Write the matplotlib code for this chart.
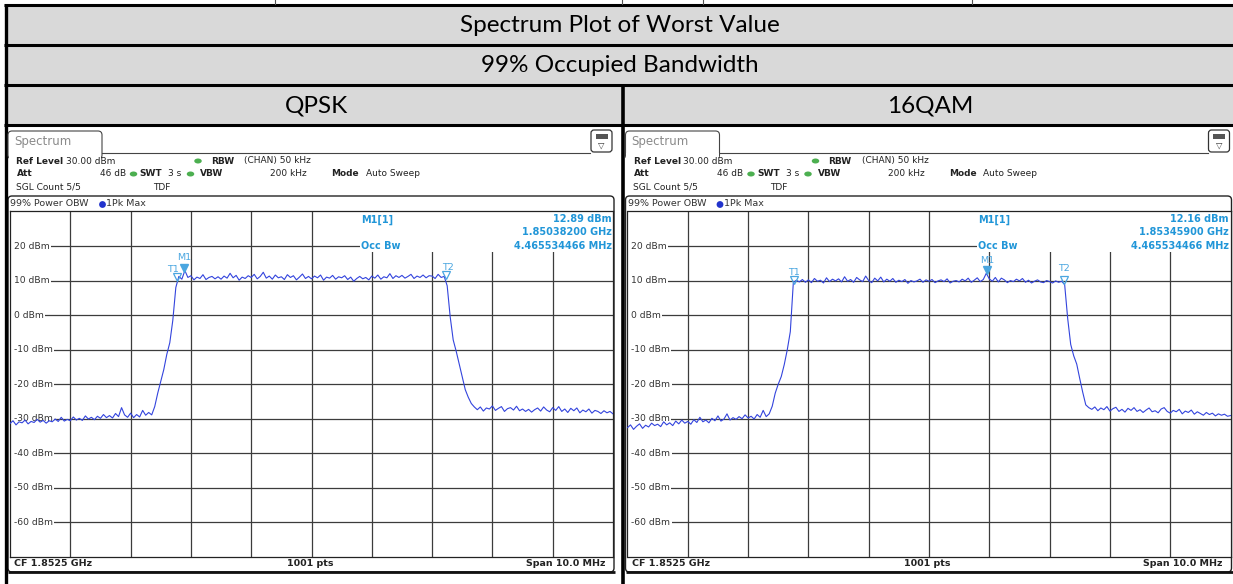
import numpy as np
import matplotlib.pyplot as plt
from matplotlib.patches import Rectangle, FancyBboxPatch, Ellipse, Circle
from matplotlib.transforms import offset_copy

W, H = 1233, 584

SPAN = [-5.0, 5.0]
LEVEL_TICKS = [20, 10, 0, -10, -20, -30, -40, -50, -60]
LEVEL_RANGE = [-70, 30]

QPSK_LEVELS = [
    -31.4, -30.6, -31.8, -30.9, -31.2, -30.4, -31.5, -30.8, -31.1, -30.2,
    -31.0, -30.5, -31.3, -30.6, -30.9, -30.1, -30.8, -29.6, -30.7, -30.2,
    -30.6, -29.5, -30.4, -29.9, -30.5, -29.2, -30.1, -29.6, -30.3, -29.3,
    -29.9, -28.8, -29.7, -29.1, -29.8, -28.5, -29.4, -26.8, -28.9, -29.6,
    -28.4, -29.7, -28.8, -29.5, -27.6, -29.0, -28.2, -28.9, -26.5, -22.6,
    -19.2, -15.8, -11.4, -8.0, -1.5, 8.0, 11.2, 10.4, 12.9, 10.9,
    11.4, 10.2, 11.0, 10.6, 11.7, 10.3, 10.9, 11.2, 10.5, 11.1,
    10.4, 11.3, 10.7, 12.1, 10.8, 11.5, 10.1, 11.0, 10.6, 11.4,
    10.9, 11.8, 10.5, 11.2, 12.4, 10.7, 11.3, 10.4, 11.6, 10.8,
    11.1, 10.3, 11.7, 10.9, 11.4, 10.2, 11.0, 11.9, 10.6, 11.2,
    10.5, 11.3, 10.8, 11.6, 10.1, 11.0, 10.7, 11.5, 10.4, 11.1,
    10.8, 11.4, 10.3, 11.0, 9.8, 10.6, 11.2, 10.5, 10.9, 10.2,
    11.3, 10.7, 11.6, 10.4, 11.1, 10.8, 12.0, 10.6, 11.4, 10.9,
    11.5, 10.7, 11.2, 11.8, 10.6, 11.3, 10.9, 11.6, 10.8, 11.4,
    11.3, 10.6, 11.8, 10.9, 11.2, 8.5, -0.5, -7.2, -10.5, -14.2,
    -17.8, -21.6, -23.8, -25.6, -26.6, -27.4, -26.6, -27.8, -26.9, -27.2,
    -26.3, -27.6, -27.0, -26.5, -27.9, -27.1, -26.8, -27.5, -26.4, -27.7,
    -27.2, -27.9, -27.3, -28.1, -27.4, -26.9, -27.8, -26.6, -27.5, -28.0,
    -26.8, -27.6, -26.5, -27.9, -27.2, -28.2, -27.0, -27.7, -26.9, -28.3,
    -27.5, -28.0, -27.2, -28.4, -27.6, -27.9, -28.5, -27.7, -28.3, -27.9,
    -28.6,
]

QAM16_LEVELS = [
    -32.6, -31.8, -33.1, -32.2, -31.5, -32.8, -31.9, -32.4, -31.3, -32.0,
    -31.6, -32.3, -30.9, -31.8, -31.2, -32.0, -30.7, -31.5, -30.4, -31.3,
    -30.8, -31.6, -30.3, -31.1, -29.6, -30.9, -30.4, -31.2, -29.9, -30.6,
    -29.2, -30.7, -30.1, -28.6, -30.4, -29.7, -30.2, -29.4, -30.0, -28.9,
    -29.8, -29.3, -30.1, -28.8, -29.6, -27.6, -29.4, -28.6, -26.4, -22.6,
    -20.0, -17.8, -14.3, -10.0, -4.8, 9.4, 10.1, 9.6, 10.3, 9.5,
    10.2, 9.4, 10.6, 9.8, 10.1, 9.3, 10.8, 9.7, 10.4, 9.9,
    10.5, 9.6, 11.1, 9.8, 10.3, 9.5, 10.9, 10.2, 9.7, 11.3,
    10.0, 9.4, 10.7, 9.9, 11.0, 9.6, 10.4, 9.8, 10.6, 9.5,
    10.1, 9.7, 10.3, 9.2, 10.0, 9.6, 9.9, 10.4, 9.5, 10.2,
    9.8, 10.3, 9.4, 9.9, 10.2, 9.7, 10.5, 9.3, 9.8, 10.0,
    9.6, 10.4, 9.9, 10.7, 9.5, 10.1, 10.8, 9.7, 10.3, 12.1,
    10.5, 9.8, 10.9, 9.6, 10.7, 10.2, 9.4, 10.0, 9.7, 10.4,
    9.9, 10.6, 9.5, 10.1, 9.3, 9.8, 10.2, 9.6, 9.4, 10.0,
    9.7, 9.3, 9.9, 9.5, 9.8, 8.8, -1.0, -8.5, -11.8, -14.2,
    -18.4, -22.4, -26.0, -26.8, -27.3, -26.6, -27.7, -26.9, -27.4, -26.5,
    -27.8, -27.1, -26.7, -27.9, -27.3, -28.1, -27.0, -27.6, -26.8, -27.9,
    -27.4, -28.2, -27.5, -26.9, -28.0, -27.7, -28.3, -27.2, -26.8, -27.9,
    -28.4, -27.6, -28.0, -27.3, -28.6, -27.8, -28.2, -27.5, -28.7, -28.0,
    -28.5, -29.0, -28.2, -28.8, -28.4, -29.2, -28.6, -29.0, -28.7, -29.3,
    -29.1,
]

# marqueurs : T1/T2 (limites OBW) et M1
QPSK_T_FREQ = [-2.233, 2.233]
QPSK_T_LEVEL = [10.3, 10.6]
QPSK_M1 = [-2.118, 12.89]
QAM16_T_FREQ = [-2.233, 2.233]
QAM16_T_LEVEL = [9.4, 9.3]
QAM16_M1 = [0.959, 12.16]

QPSK_INFO = ["12.89 dBm", "1.85038200 GHz", "4.465534466 MHz"]
QAM16_INFO = ["12.16 dBm", "1.85345900 GHz", "4.465534466 MHz"]

TABLE_ROWS = ["Spectrum Plot of Worst Value", "99% Occupied Bandwidth"]
MODULATIONS = ["QPSK", "16QAM"]

TRACE = "#3344dd"
MK = "#4aa6e0"
INFO = "#2196d8"
GRID = "#3c3c3c"
TXT = "#333333"
GREEN = "#4caf50"

fig = plt.figure(figsize=(W / 100, H / 100), dpi=100)
bg = fig.add_axes([0, 0, 1, 1])
bg.set_xlim(0, W)
bg.set_ylim(H, 0)
bg.axis("off")

# --- tableau ---
TFONT = "Lato"
for y0, y1 in [(5, 43.5), (45.5, 83.5), (85.5, 123.5)]:
    bg.add_patch(Rectangle((5, y0), W - 5, y1 - y0, fc="#d9d9d9", ec="none"))
for y in [4.5, 44.5, 84.5, 124.5]:
    bg.plot([4, W], [y, y], color="black", lw=2.2, solid_capstyle="butt")
bg.plot([5.5, 5.5], [3.5, H], color="black", lw=2.4, solid_capstyle="butt")
bg.plot([622.5, 622.5], [84, H], color="black", lw=2.6, solid_capstyle="butt")
for x in [275, 622, 703, 972]:
    bg.plot([x, x], [0, 4], color="#555555", lw=0.8)
bg.text(620, 26, TABLE_ROWS[0], ha="center", va="center", fontsize=17.5, family=TFONT)
bg.text(620, 66, TABLE_ROWS[1], ha="center", va="center", fontsize=17.5, family=TFONT)
bg.text(316, 106, MODULATIONS[0], ha="center", va="center", fontsize=17.5, family=TFONT)
bg.text(930, 106, MODULATIONS[1], ha="center", va="center", fontsize=17.5, family=TFONT)


def draw_panel(dx, levels, t_freq, t_level, m1, info, lbl_off):
    # onglet "Spectrum" + icone
    bg.add_patch(FancyBboxPatch((8 + dx, 131), 94, 28, boxstyle="round,pad=0,rounding_size=4",
                                fc="white", ec="#444444", lw=0.8, zorder=2))
    bg.add_patch(Rectangle((8.6 + dx, 152.6), 92.8, 8, fc="white", ec="none", zorder=3))
    bg.plot([102 + dx, 590 + dx], [152.5, 152.5], color="#444444", lw=0.8, zorder=3)
    bg.text(14 + dx, 142, "Spectrum", fontsize=8.5, color="#8a8a8a", va="center", zorder=4)
    bg.add_patch(FancyBboxPatch((591 + dx, 130), 21, 22, boxstyle="round,pad=0,rounding_size=3",
                                fc="white", ec="#333333", lw=0.9, zorder=4))
    bg.add_patch(Rectangle((595.5 + dx, 134), 12, 4.5, fc="#555555", ec="none", zorder=5))
    bg.text(601.5 + dx, 145.5, "\u25bd", fontsize=6, ha="center", va="center", color="#333333", zorder=5)

    # lignes de reglages
    hdr = [
        (16.5, 161, "Ref Level", True, "left"), (65.5, 161, "30.00 dBm", False, "left"),
        (211, 161, "RBW", True, "left"), (244, 161, "(CHAN) 50 kHz", False, "left"),
        (16.5, 174, "Att", True, "left"), (126, 174, "46 dB", False, "right"),
        (139.5, 174, "SWT", True, "left"), (168, 174, "3 s", False, "left"),
        (200, 174, "VBW", True, "left"), (307, 174, "200 kHz", False, "right"),
        (331.5, 174, "Mode", True, "left"), (365.5, 174, "Auto Sweep", False, "left"),
        (15.5, 187, "SGL Count 5/5", False, "left"), (153, 187, "TDF", False, "left"),
    ]
    for x, y, s, bold, ha in hdr:
        bg.text(x + dx, y, s, fontsize=6.5, ha=ha, va="center", color="#222222",
                fontweight="bold" if bold else "normal")
    for x, y in [(198, 161), (133.5, 174), (190.5, 174)]:
        bg.add_patch(Ellipse((x + dx, y), 7.5, 5, fc=GREEN, ec="none"))

    # cadre du diagramme
    bg.add_patch(FancyBboxPatch((8 + dx, 196), 606, 376, boxstyle="round,pad=0,rounding_size=4",
                                fc="white", ec="#222222", lw=1.0))
    bg.plot([8 + dx, 615 + dx], [572, 572], color="#111111", lw=2.0, solid_capstyle="butt")
    bg.text(10.5 + dx, 204, "99% Power OBW", fontsize=6.8, va="center", color=TXT)
    bg.add_patch(Circle((102.5 + dx, 204.5), 3.4, fc="#2233cc", ec="none"))
    bg.text(106.5 + dx, 204, "1Pk Max", fontsize=6.8, va="center", color=TXT)
    bg.text(14 + dx, 563.5, "CF 1.8525 GHz", fontsize=6.8, fontweight="bold", va="center", color="#222222")
    bg.text(310 + dx, 563.5, "1001 pts", fontsize=6.8, fontweight="bold", ha="center", va="center", color="#222222")
    bg.text(605 + dx, 563.5, "Span 10.0 MHz", fontsize=6.8, fontweight="bold", ha="right", va="center", color="#222222")

    ax = fig.add_axes([(10 + dx) / W, 1 - 556.8 / H, 603 / W, 345.3 / H])
    freqs = np.linspace(SPAN[0], SPAN[1], len(levels))
    for f in np.arange(SPAN[0] + 1, SPAN[1]):
        ax.axvline(f, color=GRID, lw=0.9, zorder=1)
    yax = ax.get_yaxis_transform()
    for v in LEVEL_TICKS:
        ax.axhline(v, color=GRID, lw=0.9, zorder=1)
        ax.add_patch(Rectangle((0, v - 1.2), 0.008, 2.4, transform=yax, fc="white", ec="none", zorder=2))
        ax.text(0.0066, v, f"{v} dBm", transform=yax, fontsize=6.6,
                va="center", ha="left", color=TXT, zorder=3,
                bbox=dict(fc="white", ec="none", pad=0.8))
    ax.add_patch(Rectangle((0.8, 18.3), 4.3, 12, fc="white", ec="none", zorder=2))
    ax.plot(freqs, levels, color=TRACE, lw=0.8, zorder=4)

    up = offset_copy(ax.transData, fig=fig, x=0, y=3, units="dots")
    ax.plot(t_freq, t_level, ls="none", marker="v", ms=5.5, mfc="none", mec=MK, mew=0.9,
            transform=up, zorder=5)
    ax.plot([m1[0]], [m1[1]], ls="none", marker="v", ms=5.5, mfc=MK, mec=MK,
            transform=up, zorder=5)
    for lab, f, v, off in zip(["T1", "T2"], t_freq, t_level, lbl_off[:2]):
        ax.annotate(lab, (f, v), xytext=off, textcoords="offset pixels", fontsize=6.8,
                    color=MK, ha="center", va="center", zorder=6)
    ax.annotate("M1", (m1[0], m1[1]), xytext=lbl_off[2], textcoords="offset pixels",
                fontsize=6.8, color=MK, ha="center", va="center", zorder=6)

    kw = dict(xycoords="axes fraction", textcoords="offset pixels", fontsize=7,
              fontweight="bold", color=INFO, va="center", zorder=6)
    ax.annotate("M1[1]", (0, 1), xytext=(351, -8), ha="left", **kw)
    ax.annotate("Occ Bw", (0, 1), xytext=(351, -34.5), ha="left", **kw)
    for s, dy in zip(info, [-8, -21, -34.5]):
        ax.annotate(s, (1, 1), xytext=(-1.5, dy), ha="right", **kw)

    ax.set_xlim(*SPAN)
    ax.set_ylim(*LEVEL_RANGE)
    ax.set_xticks([])
    ax.set_yticks([])
    for sp in ax.spines.values():
        sp.set_color("#222222")
        sp.set_linewidth(0.9)
    return ax


draw_panel(0, QPSK_LEVELS, QPSK_T_FREQ, QPSK_T_LEVEL, QPSK_M1, QPSK_INFO,
           [(-4, 10), (2, 11), (0, 13)])
draw_panel(617.5, QAM16_LEVELS, QAM16_T_FREQ, QAM16_T_LEVEL, QAM16_M1, QAM16_INFO,
           [(0, 10), (0, 14), (0, 13)])

fig.savefig("out.png", dpi=100)
